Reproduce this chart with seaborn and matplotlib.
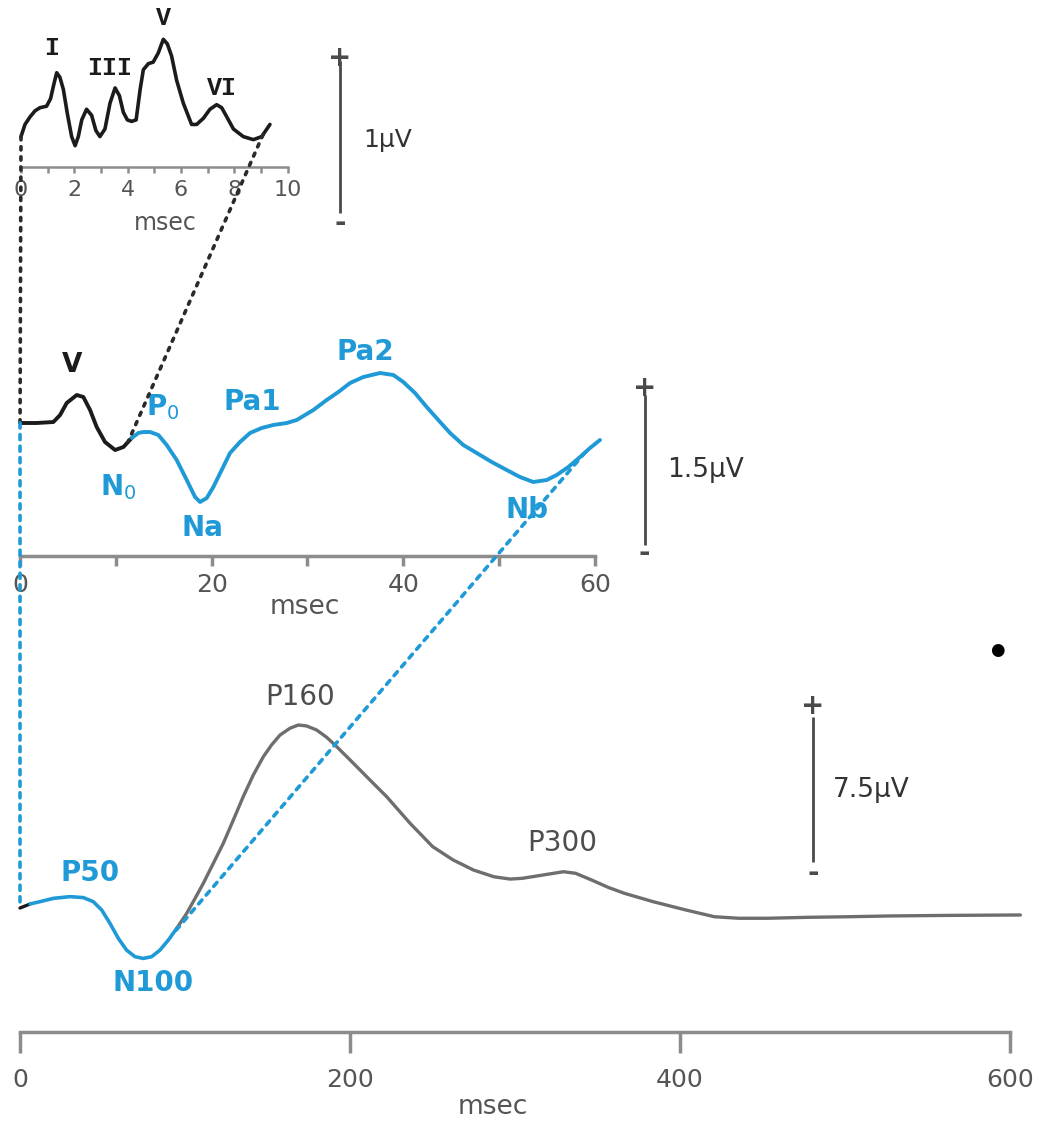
import numpy as np
import seaborn as sns
import matplotlib
matplotlib.use("Agg")
import matplotlib.pyplot as plt
from matplotlib.patches import ConnectionPatch

# ---------------------------------------------------------------------------
# Auditory evoked potentials: brainstem (ABR), middle latency (MLR) and
# long latency (LLR) responses, each with its own time base and amplitude scale.
# ---------------------------------------------------------------------------

# Brainstem response (ms, microvolts)
abr_ms = [0.0, 0.15, 0.34, 0.53, 0.71, 0.96, 1.11, 1.24, 1.34, 1.46, 1.59, 1.74,
          1.90, 2.03, 2.15, 2.28, 2.46, 2.65, 2.81, 2.96, 3.15, 3.34, 3.53, 3.69,
          3.84, 3.99, 4.15, 4.32, 4.47, 4.59, 4.78, 4.96, 5.15, 5.34, 5.49, 5.65,
          5.84, 6.09, 6.40, 6.59, 6.84, 7.09, 7.34, 7.53, 7.72, 7.97, 8.34, 8.72,
          9.03, 9.34]
abr_uv = [0.20, 0.28, 0.33, 0.37, 0.39, 0.40, 0.45, 0.55, 0.62, 0.59, 0.51, 0.35,
          0.20, 0.14, 0.20, 0.31, 0.38, 0.34, 0.24, 0.20, 0.25, 0.42, 0.52, 0.47,
          0.36, 0.31, 0.30, 0.31, 0.51, 0.64, 0.68, 0.69, 0.75, 0.84, 0.81, 0.73,
          0.57, 0.42, 0.28, 0.28, 0.32, 0.38, 0.41, 0.39, 0.33, 0.25, 0.20, 0.18,
          0.20, 0.28]
abr_ticks = [0, 2, 4, 6, 8, 10]
abr_scale_uv = 1.0
abr_peaks = ["I", "III", "V", "VI"]

# Middle latency response
mlr_ms = [0.0, 1.74, 3.48, 4.18, 4.87, 5.92, 6.61, 7.31, 8.00, 8.87, 9.92, 10.79,
          11.66, 12.35, 12.87, 13.57, 14.44, 15.31, 16.35, 17.40, 18.27, 18.79,
          19.49, 20.18, 21.05, 21.92, 22.96, 24.01, 25.23, 26.44, 27.84, 28.88,
          30.62, 32.01, 33.23, 34.45, 35.84, 37.58, 38.97, 40.01, 41.23, 42.45,
          43.66, 44.89, 46.27, 47.67, 49.24, 50.80, 52.19, 53.58, 54.98, 56.02,
          57.24, 58.46, 59.50, 60.54]
mlr_uv = [0.00, 0.00, 0.01, 0.08, 0.20, 0.28, 0.26, 0.13, -0.04, -0.19, -0.27,
          -0.24, -0.15, -0.10, -0.09, -0.09, -0.12, -0.22, -0.37, -0.57, -0.74,
          -0.79, -0.75, -0.64, -0.47, -0.30, -0.19, -0.10, -0.05, -0.02, 0.00,
          0.03, 0.13, 0.23, 0.31, 0.40, 0.46, 0.50, 0.48, 0.41, 0.30, 0.16, 0.03,
          -0.10, -0.22, -0.30, -0.39, -0.47, -0.54, -0.59, -0.57, -0.52, -0.44,
          -0.34, -0.25, -0.17]
mlr_ticks = [0, 10, 20, 30, 40, 50, 60]
mlr_labels = ["0", "", "20", "", "40", "", "60"]
mlr_scale_uv = 1.5
mlr_abr_end_ms = 11.66   # where the brainstem part ends

# Long latency response
llr_ms = [0.0, 6.1, 12.1, 20.2, 30.3, 38.4, 44.4, 49.5, 54.5, 59.6, 64.6, 69.7,
          74.7, 79.8, 84.8, 89.9, 95.0, 101.0, 106.1, 111.1, 117.2, 123.2, 129.3,
          135.3, 141.4, 147.5, 152.5, 157.6, 163.6, 168.7, 173.7, 179.8, 185.9,
          191.9, 199.0, 206.1, 214.1, 222.2, 229.3, 236.4, 250.1, 262.5, 274.8,
          287.2, 297.1, 304.5, 316.9, 329.3, 336.7, 346.5, 356.5, 366.4, 383.7,
          403.5, 420.8, 435.6, 452.9, 477.7, 502.4, 527.2, 564.2, 606.3]
llr_uv = [0.00, 0.21, 0.33, 0.50, 0.59, 0.54, 0.33, -0.10, -0.79, -1.57, -2.18,
          -2.52, -2.61, -2.52, -2.18, -1.66, -1.05, -0.28, 0.50, 1.28, 2.32, 3.35,
          4.56, 5.77, 6.89, 7.84, 8.45, 8.96, 9.31, 9.48, 9.43, 9.22, 8.84, 8.36,
          7.76, 7.15, 6.46, 5.77, 5.08, 4.39, 3.18, 2.49, 1.97, 1.62, 1.50, 1.54,
          1.71, 1.88, 1.80, 1.45, 1.07, 0.76, 0.33, -0.10, -0.45, -0.53, -0.53,
          -0.48, -0.45, -0.41, -0.38, -0.36]
llr_ticks = [0, 200, 400, 600]
llr_scale_uv = 7.5
llr_abr_end_ms = 6.1     # brainstem part
llr_mlr_end_ms = 95.0    # middle latency part

# Zoom links: (time in the upper trace, time in the lower trace)
abr_to_mlr = [(0.0, 0.0), (9.08, 11.27)]
mlr_to_llr = [(0.0, 0.0), (59.0, 92.1)]

# ---------------------------------------------------------------------------
W, H = 1047, 1127
BLACK = "#1b1b1b"
BLUE = "#1f9ad7"
GRAY = "#6e6e6e"
AXIS = "#8c8c8c"
TEXT = "#555555"

sns.set_style("white")
plt.rcParams["font.family"] = ["DejaVu Sans"]

fig = plt.figure(figsize=(W / 100, H / 100), dpi=100)
fig.patch.set_facecolor("white")


def add_panel(box, xlim, ylim):
    left, top, right, bottom = box
    ax = fig.add_axes([left / W, 1 - bottom / H, (right - left) / W, (bottom - top) / H])
    ax.set_xlim(xlim)
    ax.set_ylim(ylim)
    ax.patch.set_alpha(0)
    for s in ("left", "top", "right"):
        ax.spines[s].set_visible(False)
    ax.set_yticks([])
    return ax


def ftext(px, py, s, **kw):
    kw.setdefault("ha", "center")
    kw.setdefault("va", "center")
    fig.text(px / W, 1 - py / H, s, **kw)


def trace(ax, t, v, lo, hi, color, lw):
    t = np.asarray(t)
    v = np.asarray(v)
    m = (t >= lo) & (t <= hi)
    sns.lineplot(x=t[m], y=v[m], ax=ax, sort=False, estimator=None, color=color,
                 lw=lw, solid_capstyle="round", solid_joinstyle="round", clip_on=False)


def style_axis(ax, ticks, labels, bound, lw, length, pad, size, minor=None):
    ax.spines["bottom"].set_bounds(*bound)
    ax.spines["bottom"].set_color(AXIS)
    ax.spines["bottom"].set_linewidth(lw)
    ax.set_xticks(ticks)
    ax.set_xticklabels(labels)
    if minor is not None:
        ax.set_xticks(minor, minor=True)
    ax.tick_params(axis="x", which="both", direction="out", length=length, width=lw,
                   color=AXIS, pad=pad, labelsize=size, labelcolor=TEXT, bottom=True)


def scale_bar(ax, x, lo, value, plus_y, minus_y, label_xy, size):
    ax.plot([x, x], [lo, lo + value], color="#4a4a4a", lw=2.0, clip_on=False,
            solid_capstyle="butt")
    ax.text(x, plus_y, "+", ha="center", va="center", fontsize=20, color="#4a4a4a",
            fontweight="bold", clip_on=False)
    ax.text(x, minus_y, "-", ha="center", va="center", fontsize=20, color="#4a4a4a",
            fontweight="bold", clip_on=False)
    ax.text(label_xy[0], label_xy[1], f"{value:g}\u00b5V", ha="left", va="center",
            fontsize=size, color="#333333", clip_on=False)


# --- Brainstem panel ---------------------------------------------------------
ax_abr = add_panel((5, 15, 420, 167), (-0.60, 14.97), (0.0, 1.0))
trace(ax_abr, abr_ms, abr_uv, 0, 10, BLACK, 2.6)
style_axis(ax_abr, abr_ticks, [str(t) for t in abr_ticks], (0, 10), 1.8, 4.5, 5, 16,
           minor=[1, 3, 5, 7, 9])
scale_bar(ax_abr, 11.97, -0.30, abr_scale_uv, 0.72, -0.37, (12.83, 0.18), 18)
ftext(165, 223, "msec", fontsize=17, color=TEXT)
for (px, py), name in zip([(52, 48), (110, 68), (163, 18), (222, 88)], abr_peaks):
    ftext(px, py, name, fontsize=18, fontweight="bold", color=BLACK,
          family="Liberation Mono")

# --- Middle latency panel ----------------------------------------------------
ax_mlr = add_panel((5, 340, 700, 556), (-1.57, 70.98), (-1.33, 0.83))
trace(ax_mlr, mlr_ms, mlr_uv, 0, mlr_abr_end_ms, BLACK, 2.8)
trace(ax_mlr, mlr_ms, mlr_uv, mlr_abr_end_ms, 61, BLUE, 2.8)
style_axis(ax_mlr, mlr_ticks, mlr_labels, (0, 60), 2.5, 7, 5, 18)
scale_bar(ax_mlr, 65.2, -1.22, mlr_scale_uv, 0.35, -1.30, (67.6, -0.47), 19)
ftext(305, 607, "msec", fontsize=19, color=TEXT)
ftext(72, 365, "V", fontsize=19, fontweight="bold", color=BLACK)
for (px, py), name in zip([(163, 407), (118, 487), (202, 528), (252, 402), (365, 352),
                           (527, 510)],
                          [r"$\mathbf{P}_{0}$", r"$\mathbf{N}_{0}$", "Na", "Pa1",
                           "Pa2", "Nb"]):
    ftext(px, py, name, fontsize=20, fontweight="bold", color=BLUE)

# --- Long latency panel ------------------------------------------------------
ax_llr = add_panel((5, 680, 1040, 1032), (-9.09, 618.2), (-6.42, 11.81))
trace(ax_llr, llr_ms, llr_uv, 0, llr_abr_end_ms, BLACK, 2.4)
trace(ax_llr, llr_ms, llr_uv, llr_abr_end_ms, llr_mlr_end_ms, BLUE, 2.6)
trace(ax_llr, llr_ms, llr_uv, llr_mlr_end_ms, 610, GRAY, 2.4)
style_axis(ax_llr, llr_ticks, [str(t) for t in llr_ticks], (0, 600), 2.5, 15, 11, 18)
scale_bar(ax_llr, 480.6, 2.38, llr_scale_uv, 10.45, 1.82, (492.7, 6.1), 19)
ftext(493, 1107, "msec", fontsize=19, color=TEXT)
for (px, py), name, col in zip([(300, 697), (562, 843), (90, 873), (153, 983)],
                               ["P160", "P300", "P50", "N100"],
                               ["#4d4d4d", "#4d4d4d", BLUE, BLUE]):
    ftext(px, py, name, fontsize=20, fontweight="bold" if col == BLUE else "normal",
          color=col)


# --- Dotted links between the time bases -------------------------------------
def link(ax_a, t_a, v_a, ta, ax_b, t_b, v_b, tb, color, dashes):
    con = ConnectionPatch(xyA=(ta, np.interp(ta, t_a, v_a)), coordsA=ax_a.transData,
                          xyB=(tb, np.interp(tb, t_b, v_b)), coordsB=ax_b.transData,
                          color=color, lw=2.6, linestyle=(0, dashes),
                          capstyle="round", zorder=5)
    fig.add_artist(con)


for ta, tb in abr_to_mlr:
    link(ax_abr, abr_ms, abr_uv, ta, ax_mlr, mlr_ms, mlr_uv, tb, "#2a2a2a", (0.9, 1.9))
for ta, tb in mlr_to_llr:
    link(ax_mlr, mlr_ms, mlr_uv, ta, ax_llr, llr_ms, llr_uv, tb, BLUE, (1.4, 1.8))

ftext(997, 650, "\u25cf", fontsize=12, color="black")

fig.savefig("out.png", dpi=100, facecolor="white")
